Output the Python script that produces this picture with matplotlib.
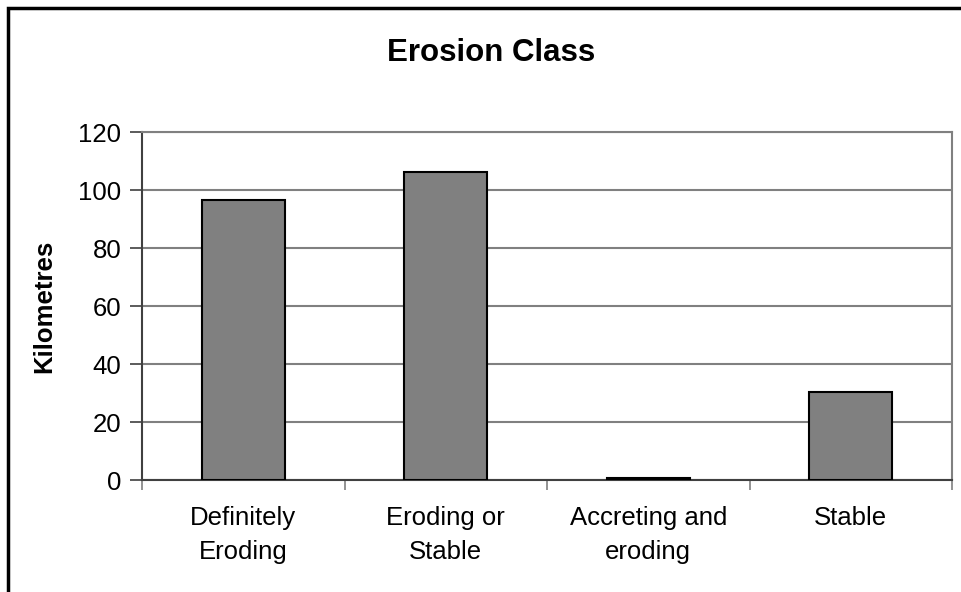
import matplotlib.pyplot as plt
from matplotlib.patches import Rectangle

categories = ['Definitely\nEroding', 'Eroding or\nStable', 'Accreting and\neroding', 'Stable']
kilometres = [96.5, 106.3, 0.7, 30.5]
y_ticks = [0, 20, 40, 60, 80, 100, 120]

plt.rcParams['font.family'] = ['Liberation Sans', 'DejaVu Sans']

fig = plt.figure(figsize=(9.62, 5.92), dpi=100)
ax = fig.add_axes([142 / 962, 1 - 480 / 592, 810 / 962, 348 / 592])

x = list(range(len(categories)))
ax.bar(x, kilometres, width=0.41, color='#808080', edgecolor='black', linewidth=1.5, zorder=3)

ax.set_xlim(-0.5, len(categories) - 0.5)
ax.set_ylim(0, 120)
ax.set_yticks(y_ticks)
ax.set_yticklabels([str(v) for v in y_ticks], fontsize=18.5)
ax.yaxis.grid(True, color='#808080', linewidth=1.5, zorder=0)

# category ticks sit between bars
ax.set_xticks([i - 0.5 for i in range(len(categories) + 1)])
ax.set_xticklabels([])
ax.set_xticks(x, minor=True)
ax.set_xticklabels(categories, minor=True, fontsize=18.5, linespacing=1.5)
ax.tick_params(axis='x', which='minor', length=0, pad=19)
ax.tick_params(axis='x', which='major', length=7, width=1.2, color='#808080', direction='out')
ax.tick_params(axis='y', length=9, width=1.2, color='#404040', direction='out', pad=6)

for side in ['top', 'right']:
    ax.spines[side].set_color('#808080')
    ax.spines[side].set_linewidth(1.5)
ax.spines['left'].set_color('#404040')
ax.spines['left'].set_linewidth(1.5)
ax.spines['bottom'].set_color('#404040')
ax.spines['bottom'].set_linewidth(1.5)

ax.set_ylabel('Kilometres', fontsize=18.5, fontweight='bold', labelpad=16)
fig.text(491 / 962, 1 - 53 / 592, 'Erosion Class', ha='center', va='center', fontsize=22.5, fontweight='bold')

# outer chart border (right and bottom run off the picture)
fig.patches.append(Rectangle((8 / 962, -0.05), 1.05, 1 - 8 / 592 + 0.05, transform=fig.transFigure,
                             fill=False, edgecolor='black', linewidth=2.5))

fig.savefig('out.png', dpi=100)
